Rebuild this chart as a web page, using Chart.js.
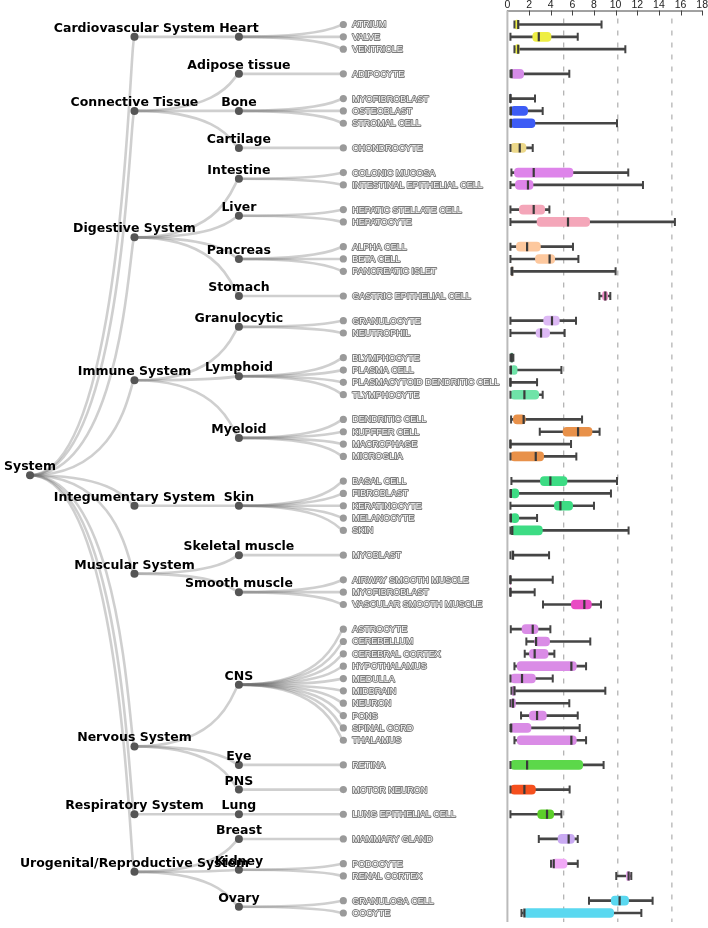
<!DOCTYPE html>
<html>
<head>
<meta charset="utf-8">
<script src="https://cdn.jsdelivr.net/npm/chart.js@4.4.0/dist/chart.umd.min.js"></script>
<style>
  html, body { margin: 0; padding: 0; background: #fff; }
  #wrap { position: relative; width: 708px; height: 928px; }
</style>
</head>
<body>
<div id="wrap"><canvas id="chart"></canvas></div>
<script>
// ---- data ----
const rootName = "System";
const systemNames = ["Cardiovascular System", "Connective Tissue", "Digestive System", "Immune System",
  "Integumentary System", "Muscular System", "Nervous System", "Respiratory System", "Urogenital/Reproductive System"];
const tissueNames = ["Heart", "Adipose tissue", "Bone", "Cartilage", "Intestine", "Liver", "Pancreas", "Stomach",
  "Granulocytic", "Lymphoid", "Myeloid", "Skin", "Skeletal muscle", "Smooth muscle", "CNS", "Eye", "PNS",
  "Lung", "Breast", "Kidney", "Ovary"];
const tissueSystem = [0, 1, 1, 1, 2, 2, 2, 2, 3, 3, 3, 4, 5, 5, 6, 6, 6, 7, 8, 8, 8];
const tissueColors = ["#eeee44", "#d58ce8", "#3d5cf5", "#ecd88a", "#de84ea", "#f4a6b9", "#fdc89e", "#f08cc8",
  "#ddb9f5", "#6fe3a8", "#e8914a", "#3ddc84", "#cfcfcf", "#e94bc4", "#da8ce6", "#5cd84a", "#f5501e",
  "#5ccf2a", "#c9aaf2", "#f1a8f6", "#5ad8f0"];

const cellNames = ["ATRIUM", "VALVE", "VENTRICLE", "ADIPOCYTE", "MYOFIBROBLAST", "OSTEOBLAST", "STROMAL CELL",
  "CHONDROCYTE", "COLONIC MUCOSA", "INTESTINAL EPITHELIAL CELL", "HEPATIC STELLATE CELL", "HEPATOCYTE",
  "ALPHA CELL", "BETA CELL", "PANCREATIC ISLET", "GASTRIC EPITHELIAL CELL", "GRANULOCYTE", "NEUTROPHIL",
  "BLYMPHOCYTE", "PLASMA CELL", "PLASMACYTOID DENDRITIC CELL", "TLYMPHOCYTE", "DENDRITIC CELL", "KUPFFER CELL",
  "MACROPHAGE", "MICROGLIA", "BASAL CELL", "FIBROBLAST", "KERATINOCYTE", "MELANOCYTE", "SKIN", "MYOBLAST",
  "AIRWAY SMOOTH MUSCLE", "MYOFIBROBLAST", "VASCULAR SMOOTH MUSCLE", "ASTROCYTE", "CEREBELLUM",
  "CEREBRAL CORTEX", "HYPOTHALAMUS", "MEDULLA", "MIDBRAIN", "NEURON", "PONS", "SPINAL CORD", "THALAMUS",
  "RETINA", "MOTOR NEURON", "LUNG EPITHELIAL CELL", "MAMMARY GLAND", "PODOCYTE", "RENAL CORTEX",
  "GRANULOSA CELL", "OOCYTE"];
const cellTissue = [0, 0, 0, 1, 2, 2, 2, 3, 4, 4, 5, 5, 6, 6, 6, 7, 8, 8, 9, 9, 9, 9, 10, 10, 10, 10,
  11, 11, 11, 11, 11, 12, 13, 13, 13, 14, 14, 14, 14, 14, 14, 14, 14, 14, 14, 15, 16, 17, 18, 19, 19, 20, 20];

const mins = [0.65, 0.28, 0.65, 0.28, 0.28, 0.28, 0.28, 0.28, 0.37, 0.28, 0.28, 0.28, 0.28, 0.28, 0.37, 8.5,
  0.28, 0.28, 0.28, 0.28, 0.28, 0.28, 0.34, 2.99, 0.28, 0.28, 0.37, 0.28, 0.28, 0.28, 0.28, 0.28, 0.28, 0.28,
  3.29, 0.31, 1.75, 1.6, 0.65, 0.28, 0.37, 0.28, 1.26, 0.28, 0.65, 0.28, 0.28, 0.28, 2.9, 4.03, 10.06, 7.54, 1.3];
const q1s = [0.7, 2.34, 0.75, 0.3, 0.28, 0.3, 0.3, 0.3, 0.65, 0.74, 1.1, 2.74, 0.83, 2.59, 0.37, 8.8,
  3.35, 2.65, 0.3, 0.3, 0.28, 0.3, 0.55, 5.14, 0.28, 0.3, 3.05, 0.3, 4.34, 0.3, 0.3, 0.3, 0.28, 0.28,
  5.91, 1.35, 2.52, 2.03, 0.9, 0.3, 0.4, 0.3, 2.03, 0.3, 0.9, 0.3, 0.3, 2.8, 4.68, 4.1, 11.0, 9.6, 1.5];
const medians = [1.0, 2.9, 1.0, 0.38, 0.28, 0.32, 0.32, 1.14, 2.43, 1.9, 2.43, 5.6, 1.82, 3.9, 0.45, 9.05,
  4.12, 3.11, 0.4, 0.32, 0.28, 1.57, 1.5, 6.53, 0.28, 2.62, 3.97, 0.32, 4.9, 0.32, 0.45, 0.52, 0.28, 0.28,
  7.11, 2.34, 2.65, 2.52, 5.91, 1.35, 0.65, 0.52, 2.74, 0.35, 5.91, 1.82, 1.57, 3.66, 5.66, 4.28, 11.2, 10.37, 1.57];
const q3s = [1.05, 4.03, 1.1, 1.5, 0.3, 1.87, 2.55, 1.72, 6.06, 2.37, 3.45, 7.6, 3.05, 4.37, 0.5, 9.26,
  4.8, 3.9, 0.5, 0.9, 0.3, 2.9, 1.66, 7.82, 0.3, 3.35, 5.51, 1.05, 6.03, 1.05, 3.23, 0.55, 0.3, 0.3,
  7.76, 2.83, 3.9, 3.76, 6.37, 2.59, 0.7, 0.74, 3.6, 2.18, 6.37, 6.96, 2.59, 4.28, 6.19, 5.51, 11.35, 11.2, 9.82];
const maxs = [8.7, 6.5, 10.9, 5.72, 2.55, 3.26, 10.13, 2.34, 11.17, 12.53, 3.88, 15.48, 6.06, 6.56, 10.0, 9.51,
  6.34, 5.29, 0.55, 4.99, 2.74, 3.26, 6.9, 8.52, 5.88, 6.37, 10.13, 9.57, 8.0, 2.74, 11.2, 3.85, 4.19, 2.52,
  8.65, 3.97, 7.66, 4.34, 7.27, 4.19, 9.05, 5.72, 6.5, 6.68, 7.27, 8.89, 5.75, 4.99, 6.5, 6.5, 11.45, 13.42, 12.38];

const xTicks = [0, 2, 4, 6, 8, 10, 12, 14, 16, 18];
const refLines = [5.2, 10.2, 15.2];

// ---- tree layout from the grouping ----
const rowOf = [];
let row = -1;
cellTissue.forEach((t, i) => {
  row += (i > 0 && t !== cellTissue[i - 1]) ? 2 : 1;
  rowOf.push(row);
});
const mean = (a) => a.reduce((s, v) => s + v, 0) / a.length;
const tissueY = tissueNames.map((_, t) => mean(rowOf.filter((_, i) => cellTissue[i] === t)));
const systemY = systemNames.map((_, s) => mean(tissueY.filter((_, t) => tissueSystem[t] === s)));
const rootY = mean(systemY);

const links = [];
systemY.forEach((sy) => links.push([0, rootY, 1, sy]));
tissueY.forEach((ty, t) => links.push([1, systemY[tissueSystem[t]], 2, ty]));
rowOf.forEach((r, i) => links.push([2, tissueY[cellTissue[i]], 3, r]));

const treePlugin = {
  id: "tree",
  beforeDatasetsDraw(chart) {
    const {ctx, chartArea, scales} = chart;
    const x = scales.x, tx = scales.tx, y = scales.y;
    ctx.save();
    // dashed reference lines
    ctx.strokeStyle = "#b4b4b4";
    ctx.lineWidth = 1.3;
    ctx.setLineDash([5, 7]);
    refLines.forEach((v) => {
      const px = x.getPixelForValue(v);
      ctx.beginPath(); ctx.moveTo(px, chartArea.top + 8); ctx.lineTo(px, chartArea.bottom); ctx.stroke();
    });
    ctx.setLineDash([]);
    // axis lines
    const x0 = x.getPixelForValue(0), x1 = x.getPixelForValue(18);
    ctx.strokeStyle = "#444";
    ctx.lineWidth = 1;
    ctx.beginPath(); ctx.moveTo(x0, chartArea.top + 0.5); ctx.lineTo(x1, chartArea.top + 0.5); ctx.stroke();
    xTicks.forEach((v) => {
      const px = Math.round(x.getPixelForValue(v)) + 0.5;
      ctx.beginPath(); ctx.moveTo(px, chartArea.top); ctx.lineTo(px, chartArea.top + 5); ctx.stroke();
    });
    ctx.strokeStyle = "#bbb";
    ctx.lineWidth = 2;
    ctx.beginPath(); ctx.moveTo(x0, chartArea.top); ctx.lineTo(x0, chartArea.bottom); ctx.stroke();
    // tree links
    ctx.strokeStyle = "rgba(110,110,110,0.33)";
    ctx.lineWidth = 2.6;
    links.forEach(([d1, v1, d2, v2]) => {
      const ax = tx.getPixelForValue(d1), ay = y.getPixelForValue(v1);
      const bx = tx.getPixelForValue(d2), by = y.getPixelForValue(v2);
      ctx.beginPath();
      ctx.moveTo(ax, ay);
      ctx.bezierCurveTo(ax + (bx - ax) * 0.9, ay, bx - (bx - ax) * 0.05, by, bx, by);
      ctx.stroke();
    });
    ctx.restore();
  },
  afterDatasetsDraw(chart) {
    const {ctx, scales} = chart;
    const tx = scales.tx, y = scales.y;
    ctx.save();
    // leaf labels
    ctx.font = "9px 'Liberation Sans', Arial, sans-serif";
    ctx.textBaseline = "middle";
    ctx.textAlign = "left";
    ctx.lineJoin = "round";
    const lx = tx.getPixelForValue(3) + 9;
    cellNames.forEach((n, i) => {
      const py = y.getPixelForValue(rowOf[i]) + 0.5;
      ctx.strokeStyle = "#7c7c7c"; ctx.lineWidth = 1.8; ctx.strokeText(n, lx, py);
      ctx.fillStyle = "#fafafa"; ctx.fillText(n, lx, py);
    });
    // group labels
    ctx.font = "bold 12.5px 'DejaVu Sans', Verdana, sans-serif";
    ctx.textAlign = "center";
    ctx.textBaseline = "alphabetic";
    ctx.fillStyle = "#000";
    const put = (txt, d, v) => ctx.fillText(txt, tx.getPixelForValue(d), y.getPixelForValue(v) - 5);
    tissueNames.forEach((n, t) => put(n, 2, tissueY[t]));
    systemNames.forEach((n, s) => put(n, 1, systemY[s]));
    put(rootName, 0, rootY);
    ctx.restore();
  }
};

const cellColors = cellTissue.map((t) => tissueColors[t]);

new Chart(document.getElementById("chart"), {
  type: "bar",
  data: {
    datasets: [
      {
        type: "scatter", label: "medians", xAxisID: "x", yAxisID: "y", order: 1,
        data: medians.map((v, i) => ({x: v, y: rowOf[i]})),
        pointStyle: "line", rotation: 90, radius: 4.5, borderWidth: 2.2, borderColor: "#3a3a3a"
      },
      {
        type: "scatter", label: "caps", xAxisID: "x", yAxisID: "y", order: 2,
        data: mins.map((v, i) => ({x: v, y: rowOf[i]})).concat(maxs.map((v, i) => ({x: v, y: rowOf[i]}))),
        pointStyle: "line", rotation: 90, radius: 4, borderWidth: 2, borderColor: "#444"
      },
      {
        type: "bar", label: "boxes", xAxisID: "x", yAxisID: "y", order: 3, indexAxis: "y",
        data: q1s.map((v, i) => ({x: [v, q3s[i]], y: rowOf[i]})),
        backgroundColor: cellColors, barThickness: 9, borderRadius: 4, borderSkipped: false, grouped: false
      },
      {
        type: "bar", label: "whiskers", xAxisID: "x", yAxisID: "y", order: 4, indexAxis: "y",
        data: mins.map((v, i) => ({x: [v, maxs[i]], y: rowOf[i]})),
        backgroundColor: "#454545", barThickness: 2, grouped: false
      },
      {
        type: "scatter", label: "leaves", xAxisID: "tx", yAxisID: "y", order: 5,
        data: rowOf.map((r) => ({x: 3, y: r})),
        pointStyle: "circle", radius: 3.6, backgroundColor: "#9a9a9a", borderWidth: 0
      },
      {
        type: "scatter", label: "branches", xAxisID: "tx", yAxisID: "y", order: 5,
        data: tissueY.map((v) => ({x: 2, y: v})).concat(systemY.map((v) => ({x: 1, y: v})), [{x: 0, y: rootY}]),
        pointStyle: "circle", radius: 4, backgroundColor: "#555", borderWidth: 0
      }
    ]
  },
  options: {
    responsive: true,
    maintainAspectRatio: false,
    animation: false,
    events: [],
    layout: {autoPadding: false, padding: {top: 0, bottom: 6, left: 0, right: 0}},
    plugins: {legend: {display: false}, tooltip: {enabled: false}},
    scales: {
      x: {
        type: "linear", position: "top", min: -46.9, max: 18, offset: false,
        afterBuildTicks: (s) => { s.ticks = xTicks.map((v) => ({value: v})); },
        grid: {display: false, drawTicks: false, offset: false},
        border: {display: false},
        ticks: {padding: 0, color: "#222", font: {size: 10.5, family: "'Liberation Sans', Arial, sans-serif", lineHeight: 1}}
      },
      tx: {type: "linear", axis: "x", position: "bottom", display: false, offset: false, min: -0.2876, max: 6.436},
      y: {type: "linear", display: false, reverse: true, offset: false, grid: {offset: false}, min: -1.135, max: 72.73}
    }
  },
  plugins: [treePlugin]
});
</script>
</body>
</html>
